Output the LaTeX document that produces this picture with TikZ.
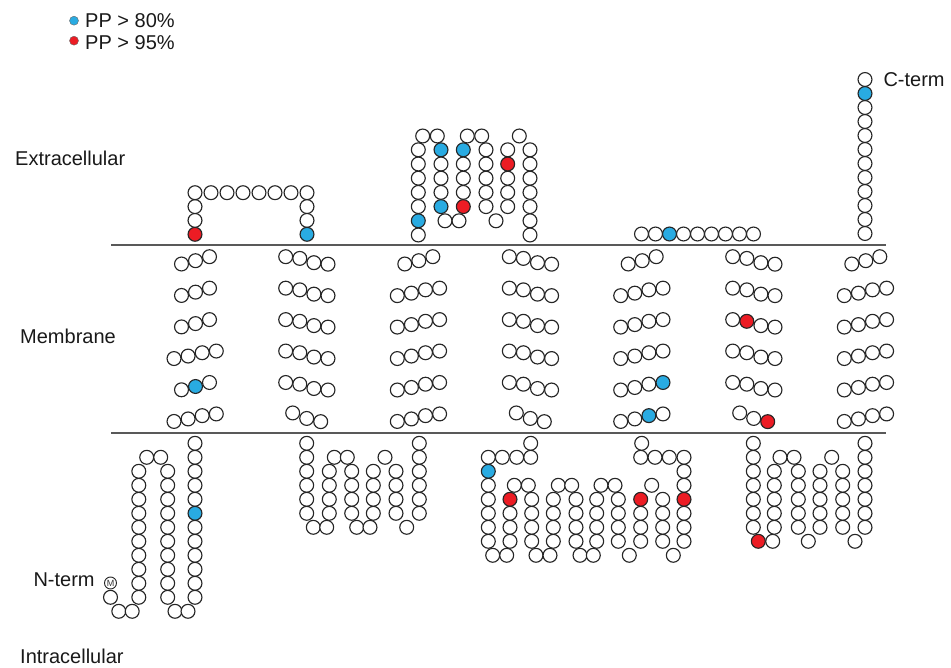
\documentclass[tikz,border=0pt]{standalone}
\usepackage{fontspec}
\setmainfont{Liberation Sans}
\definecolor{ppblue}{RGB}{41,171,226}
\definecolor{ppred}{RGB}{236,28,36}
% helix row offset tables (dx/dy)
\def\tAiv{0/7.5,14.1/5,28.2/1.7,42.3/0}
\def\tAiii{7.5/7.3,21.5/4,35.5/0}
\def\tDiv{0/0,14.1/1.7,28.2/6,42.3/7.5}
\def\tDiii{7/-1,21/4.5,35/7.7}
% helix row: name, x0, row, table, special index, colour
\newcommand\hrow[6]{%
  \foreach \dx/\dy [count=\j] in #4 {%
    \ifnum\j=#5\relax\def\cc{#6}\else\def\cc{white}\fi
    \node[res,fill=\cc] (#1-\j) at ({#2+\dx},{256.7+31.45*#3+\dy}) {};}}
% intracellular column: name, x, k1, k2, special k, colour
\newcommand\icol[6]{%
  \foreach \k in {#3,...,#4}{%
    \ifnum\k=#5\relax\def\cc{#6}\else\def\cc{white}\fi
    \node[res,fill=\cc] (#1-\k) at (#2,{443.3+14*\k}) {};}}
% intracellular single residue: name, x, k, colour
\newcommand\ic[4]{\node[res,fill=#4] (#1) at (#2,{443.3+14*#3}) {};}
\begin{document}
\begin{tikzpicture}[x=1pt,y=-1pt,
  res/.style={circle,draw=black!85,line width=1.15pt,fill=white,minimum size=13.9pt,inner sep=0pt},
  lbl/.style={anchor=base west,inner sep=0pt,text=black!90,font=\fontsize{20}{24}\selectfont},
  memline/.style={line width=1.6pt,draw=black!65},
  legdot/.style={circle,draw=black!60,line width=0.4pt,minimum size=9pt,inner sep=0pt}]
\useasboundingbox (0,0) rectangle (951,668);

% legend
\node[legdot,fill=ppblue] (lgb) at (74,20.7) {};
\node[legdot,fill=ppred] (lgr) at (74,40.7) {};
\node[lbl] (lgbt) at (85,27.3) {PP > 80\%};
\node[lbl] (lgrt) at (85,49.3) {PP > 95\%};

% region labels
\node[lbl] (extra) at (15,165.7) {Extracellular};
\node[lbl] (memb) at (20,343.3) {Membrane};
\node[lbl] (intra) at (20,663.3) {Intracellular};
\node[lbl] (nterm) at (33.3,586.7) {N-term};
\node[lbl] (cterm) at (883.3,86.7) {C-term};

% membrane lines
\coordinate (mtl) at (111,245); \coordinate (mtr) at (886,245);
\coordinate (mbl) at (111,433); \coordinate (mbr) at (886,433);
\draw[memline] (mtl) -- (mtr);
\draw[memline] (mbl) -- (mbr);

% ---------- transmembrane helices ----------
% TM1
\hrow{ha0}{174}{0}{\tAiii}{0}{white}
\hrow{ha1}{174}{1}{\tAiii}{0}{white}
\hrow{ha2}{174}{2}{\tAiii}{0}{white}
\hrow{ha3}{174}{3}{\tAiv}{0}{white}
\hrow{ha4}{174}{4}{\tAiii}{2}{ppblue}
\hrow{ha5}{174}{5}{\tAiv}{0}{white}
% TM2
\hrow{hb0}{285.7}{0}{\tDiv}{0}{white}
\hrow{hb1}{285.7}{1}{\tDiv}{0}{white}
\hrow{hb2}{285.7}{2}{\tDiv}{0}{white}
\hrow{hb3}{285.7}{3}{\tDiv}{0}{white}
\hrow{hb4}{285.7}{4}{\tDiv}{0}{white}
\hrow{hb5}{285.7}{5}{\tDiii}{0}{white}
% TM3
\hrow{hc0}{397.3}{0}{\tAiii}{0}{white}
\hrow{hc1}{397.3}{1}{\tAiv}{0}{white}
\hrow{hc2}{397.3}{2}{\tAiv}{0}{white}
\hrow{hc3}{397.3}{3}{\tAiv}{0}{white}
\hrow{hc4}{397.3}{4}{\tAiv}{0}{white}
\hrow{hc5}{397.3}{5}{\tAiv}{0}{white}
% TM4
\hrow{hd0}{509.3}{0}{\tDiv}{0}{white}
\hrow{hd1}{509.3}{1}{\tDiv}{0}{white}
\hrow{hd2}{509.3}{2}{\tDiv}{0}{white}
\hrow{hd3}{509.3}{3}{\tDiv}{0}{white}
\hrow{hd4}{509.3}{4}{\tDiv}{0}{white}
\hrow{hd5}{509.3}{5}{\tDiii}{0}{white}
% TM5
\hrow{he0}{620.7}{0}{\tAiii}{0}{white}
\hrow{he1}{620.7}{1}{\tAiv}{0}{white}
\hrow{he2}{620.7}{2}{\tAiv}{0}{white}
\hrow{he3}{620.7}{3}{\tAiv}{0}{white}
\hrow{he4}{620.7}{4}{\tAiv}{4}{ppblue}
\hrow{he5}{620.7}{5}{\tAiv}{3}{ppblue}
% TM6
\hrow{hf0}{732.7}{0}{\tDiv}{0}{white}
\hrow{hf1}{732.7}{1}{\tDiv}{0}{white}
\hrow{hf2}{732.7}{2}{\tDiv}{2}{ppred}
\hrow{hf3}{732.7}{3}{\tDiv}{0}{white}
\hrow{hf4}{732.7}{4}{\tDiv}{0}{white}
\hrow{hf5}{732.7}{5}{\tDiii}{3}{ppred}
% TM7
\hrow{hg0}{844.3}{0}{\tAiii}{0}{white}
\hrow{hg1}{844.3}{1}{\tAiv}{0}{white}
\hrow{hg2}{844.3}{2}{\tAiv}{0}{white}
\hrow{hg3}{844.3}{3}{\tAiv}{0}{white}
\hrow{hg4}{844.3}{4}{\tAiv}{0}{white}
\hrow{hg5}{844.3}{5}{\tAiv}{0}{white}

% ---------- extracellular loops ----------
\foreach \x/\y/\c [count=\i] in {195/234.3/ppred,195/220.4/white,195/206.6/white,195/192.7/white,
  211/192.7/white,227/192.7/white,243/192.7/white,259/192.7/white,275/192.7/white,291/192.7/white,
  307/192.7/white,307/206.6/white,307/220.4/white,307/234.3/ppblue}
  \node[res,fill=\c] (ea-\i) at (\x,\y) {};

\foreach \x/\y/\c [count=\i] in {418.3/235/white,418.3/220.8/ppblue,418.3/206.6/white,418.3/192.4/white,
  418.3/178.2/white,418.3/164/white,418.3/149.8/white,
  422.7/136/white,437.3/136/white,
  441/149.8/ppblue,441/164/white,441/178.2/white,441/192.4/white,441/206.6/ppblue,
  445/220.8/white,459/220.8/white,
  463.3/206.6/ppred,463.3/192.4/white,463.3/178.2/white,463.3/164/white,463.3/149.8/ppblue,
  467.3/136/white,481.7/136/white,
  486/149.8/white,486/164/white,486/178.2/white,486/192.4/white,486/206.6/white,
  496/220.8/white,
  507.7/206.6/white,507.7/192.4/white,507.7/178.2/white,507.7/164/ppred,507.7/149.8/white,
  519.3/136/white,
  530/149.8/white,530/164/white,530/178.2/white,530/192.4/white,530/206.6/white,530/220.8/white,530/235/white}
  \node[res,fill=\c] (eb-\i) at (\x,\y) {};

\foreach \i in {0,...,8}{%
  \ifnum\i=2\relax\def\cc{ppblue}\else\def\cc{white}\fi
  \node[res,fill=\cc] (ec-\i) at ({641.5+14*\i},234) {};}

\foreach \i in {0,...,11}{%
  \ifnum\i=10\relax\def\cc{ppblue}\else\def\cc{white}\fi
  \node[res,fill=\cc] (ct-\i) at (865,{233.5-14*\i}) {};}

% ---------- intracellular loops ----------
% N-terminal segment
\ic{na}{110.5}{11}{white}
\node[circle,draw=black!85,line width=0.9pt,fill=white,minimum size=12pt,inner sep=0pt,
  font=\fontsize{9}{9}\selectfont,text=black!80] (met) at (110.5,583) {M};
\ic{nb}{118.8}{12}{white}
\ic{nc}{132.2}{12}{white}
\icol{nd}{138.8}{2}{11}{-1}{white}
\ic{ne}{146.7}{1}{white}
\ic{nf}{160.7}{1}{white}
\icol{ng}{167.7}{2}{11}{-1}{white}
\ic{nh}{175}{12}{white}
\ic{ni}{188}{12}{white}
\icol{nj}{195}{0}{11}{5}{ppblue}

% ICL2
\icol{ia}{306.7}{0}{5}{-1}{white}
\ic{ib}{313.3}{6}{white}
\ic{ic}{326.7}{6}{white}
\icol{id}{329.3}{2}{5}{-1}{white}
\ic{ie}{334.3}{1}{white}
\ic{if}{347.3}{1}{white}
\icol{ig}{351.7}{2}{5}{-1}{white}
\ic{ih}{356.7}{6}{white}
\ic{ii}{370}{6}{white}
\icol{ij}{373.3}{2}{5}{-1}{white}
\ic{ik}{385}{1}{white}
\icol{il}{396}{2}{5}{-1}{white}
\ic{im}{406.7}{6}{white}
\icol{in}{419.3}{0}{5}{-1}{white}

% ICL3
\ic{ja}{530.7}{0}{white}
\ic{jb}{530.7}{1}{white}
\ic{jc}{516.7}{1}{white}
\ic{jd}{502.3}{1}{white}
\icol{je}{488.3}{1}{7}{2}{ppblue}
\ic{jf}{492.7}{8}{white}
\ic{jg}{506.7}{8}{white}
\icol{jh}{510}{4}{7}{4}{ppred}
\ic{ji}{514.3}{3}{white}
\ic{jj}{528.3}{3}{white}
\icol{jk}{531.7}{4}{7}{-1}{white}
\ic{jl}{536}{8}{white}
\ic{jm}{550}{8}{white}
\icol{jn}{553.3}{4}{7}{-1}{white}
\ic{jo}{558.3}{3}{white}
\ic{jp}{571.7}{3}{white}
\icol{jq}{576}{4}{7}{-1}{white}
\ic{jr}{580}{8}{white}
\ic{js}{593.3}{8}{white}
\icol{jt}{596.7}{4}{7}{-1}{white}
\ic{ju}{601}{3}{white}
\ic{jv}{615}{3}{white}
\icol{jw}{618.3}{4}{7}{-1}{white}
\ic{jx}{629.3}{8}{white}
\icol{jy}{640.7}{4}{7}{4}{ppred}
\ic{jz}{651.7}{3}{white}
\icol{jA}{662.7}{4}{7}{-1}{white}
\ic{jB}{673.3}{8}{white}
\icol{jC}{684}{1}{7}{4}{ppred}
\ic{jD}{669.3}{1}{white}
\ic{jE}{655}{1}{white}
\ic{jF}{640.7}{1}{white}
\ic{jG}{641.7}{0}{white}

% ICL4
\icol{ka}{753.3}{0}{6}{-1}{white}
\ic{kb}{758.3}{7}{ppred}
\ic{kc}{772.7}{7}{white}
\icol{kd}{774.3}{2}{6}{-1}{white}
\ic{ke}{780}{1}{white}
\ic{kf}{794}{1}{white}
\icol{kg}{798.3}{2}{6}{-1}{white}
\ic{kh}{808.3}{7}{white}
\icol{ki}{820}{2}{6}{-1}{white}
\ic{kj}{831.7}{1}{white}
\icol{kk}{842.7}{2}{6}{-1}{white}
\ic{kl}{855}{7}{white}
\icol{km}{865}{0}{6}{-1}{white}
\end{tikzpicture}
\end{document}
